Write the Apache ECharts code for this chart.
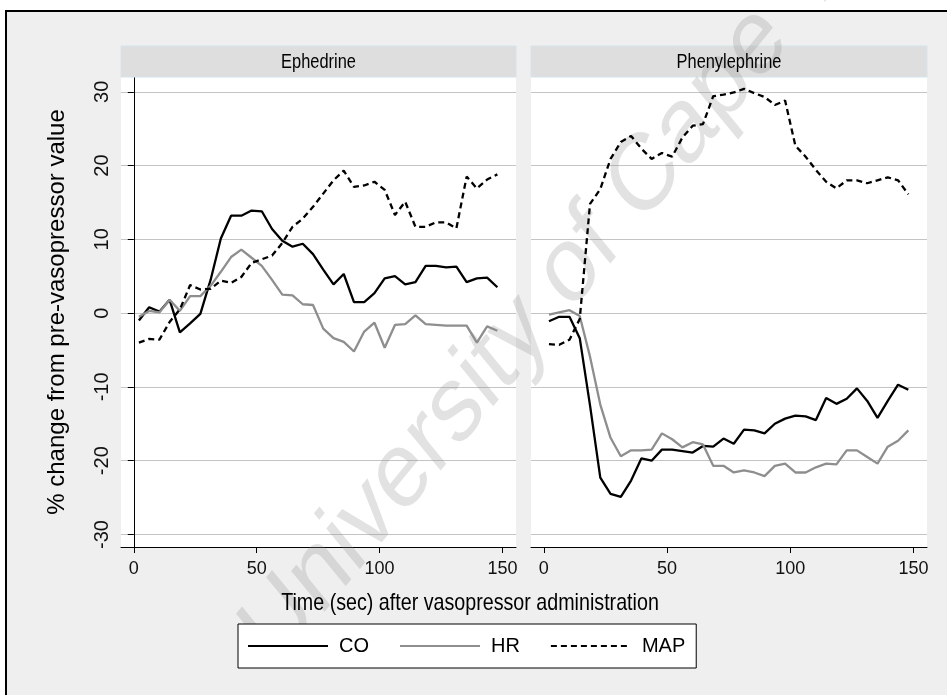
<!DOCTYPE html>
<html>
<head>
<meta charset="utf-8">
<script src="https://cdn.jsdelivr.net/npm/echarts@6/dist/echarts.min.js"></script>
<style>
  html, body { margin: 0; padding: 0; background: #fff; }
  #main { width: 947px; height: 695px; }
</style>
</head>
<body>
<div id="main"></div>
<script>
// time points (sec after vasopressor)
var times = [2.08, 6.25, 10.42, 14.58, 18.75, 22.92, 27.08, 31.25, 35.42, 39.58, 43.75, 47.92,
  52.08, 56.25, 60.42, 64.58, 68.75, 72.92, 77.08, 81.25, 85.42, 89.58, 93.75, 97.92,
  102.08, 106.25, 110.42, 114.58, 118.75, 122.92, 127.08, 131.25, 135.42, 139.58, 143.75, 147.92];

// Ephedrine
var ephCO = [-1.0, 0.8, 0.2, 1.8, -2.6, -1.4, -0.1, 4.5, 10.1, 13.2, 13.2, 13.9,
  13.8, 11.4, 9.8, 9.0, 9.4, 8.0, 5.9, 3.9, 5.3, 1.5, 1.5, 2.7,
  4.7, 5.0, 3.9, 4.2, 6.4, 6.4, 6.2, 6.3, 4.2, 4.7, 4.8, 3.5];
var ephHR = [-0.5, 0.3, 0.1, 1.8, 0.3, 2.3, 2.3, 3.7, 5.6, 7.6, 8.6, 7.5,
  6.4, 4.5, 2.5, 2.4, 1.2, 1.1, -2.1, -3.4, -3.9, -5.2, -2.5, -1.3,
  -4.7, -1.6, -1.5, -0.3, -1.5, -1.6, -1.7, -1.7, -1.7, -4.0, -1.8, -2.4];
var ephMAP = [-4.0, -3.5, -3.6, -1.2, 0.5, 3.8, 3.2, 3.3, 4.4, 4.1, 4.9, 6.8,
  7.3, 7.8, 9.5, 11.7, 12.8, 14.4, 16.2, 18.0, 19.3, 17.1, 17.3, 17.8,
  16.7, 13.3, 15.1, 11.7, 11.7, 12.3, 12.3, 11.5, 18.5, 16.9, 18.1, 18.8];

// Phenylephrine
var phCO = [-1.1, -0.5, -0.5, -3.4, -12.5, -22.3, -24.5, -24.9, -22.7, -19.7, -20.0, -18.5,
  -18.5, -18.7, -18.9, -18.0, -18.1, -17.0, -17.7, -15.8, -15.9, -16.3, -15.0, -14.3,
  -13.9, -14.0, -14.5, -11.5, -12.3, -11.6, -10.2, -11.9, -14.2, -11.9, -9.7, -10.4];
var phHR = [-0.2, 0.1, 0.4, -0.4, -5.9, -12.4, -16.9, -19.4, -18.6, -18.6, -18.5, -16.3,
  -17.1, -18.2, -17.5, -17.8, -20.7, -20.7, -21.6, -21.3, -21.6, -22.1, -20.7, -20.4,
  -21.6, -21.6, -20.9, -20.4, -20.5, -18.6, -18.6, -19.5, -20.4, -18.1, -17.3, -15.9];
var phMAP = [-4.2, -4.3, -3.6, -0.8, 14.8, 16.8, 20.9, 23.2, 24.0, 22.3, 20.9, 21.7,
  21.2, 23.8, 25.4, 25.6, 29.4, 29.6, 29.9, 30.4, 29.8, 29.3, 28.2, 28.8,
  22.7, 21.2, 19.4, 17.8, 16.9, 18.0, 18.0, 17.6, 18.0, 18.4, 18.0, 16.1];

var panels = ['Ephedrine', 'Phenylephrine'];
var xTicks = [0, 50, 100, 150];
var yTicks = [-30, -20, -10, 0, 10, 20, 30];

var FONT = '"Liberation Sans", Arial, sans-serif';
var SQUEEZE = 0.82; // the source image is squeezed sideways

function pairs(vals) {
  return vals.map(function (v, i) { return [times[i], v]; });
}

var chart = echarts.init(document.getElementById('main'));

var grids = [
  { left: 121, top: 77, width: 395, height: 470 },
  { left: 531, top: 77, width: 396, height: 470 }
];

function xAxis(i) {
  return {
    type: 'value', gridIndex: i, min: -5.2, max: 155.5, splitNumber: 3,
    axisLine: { show: true, onZero: false, lineStyle: { color: '#000', width: 1 } },
    axisTick: { show: true, length: 6, lineStyle: { color: '#000' }, customValues: xTicks },
    axisLabel: { fontSize: 18, color: '#111', fontFamily: FONT, margin: 13, customValues: xTicks },
    splitLine: { show: false }
  };
}

function yAxis(i) {
  var first = i === 0;
  return {
    type: 'value', gridIndex: i, min: -31.7, max: 32,
    name: first ? '% change from pre-vasopressor value' : '',
    nameLocation: 'middle', nameGap: 52,
    nameTextStyle: { fontSize: 24, color: '#000', fontFamily: FONT },
    axisLine: { show: first, lineStyle: { color: '#000', width: 1 } },
    axisTick: { show: first, length: 6, lineStyle: { color: '#000' }, customValues: yTicks },
    axisLabel: { show: first, rotate: 90, fontSize: 20, color: '#111', fontFamily: FONT,
      margin: 9, customValues: yTicks },
    splitLine: { show: true, lineStyle: { color: '#c4c4c4', width: 1 } }
  };
}

function lines(i, co, hr, map) {
  return [
    { name: 'CO', type: 'line', xAxisIndex: i, yAxisIndex: i, data: pairs(co),
      symbol: 'none', lineStyle: { color: '#000', width: 2.3 }, itemStyle: { color: '#000' }, z: 3 },
    { name: 'HR', type: 'line', xAxisIndex: i, yAxisIndex: i, data: pairs(hr),
      symbol: 'none', lineStyle: { color: '#8e8e8e', width: 2.3 }, itemStyle: { color: '#8e8e8e' }, z: 4 },
    { name: 'MAP', type: 'line', xAxisIndex: i, yAxisIndex: i, data: pairs(map),
      symbol: 'none', lineStyle: { color: '#000', width: 2.3, type: [6, 4] }, itemStyle: { color: '#000' }, z: 5 }
  ];
}

function squeezedText(txt, cx, cy, size, z) {
  return {
    type: 'text', z: z, x: cx, y: cy, scaleX: SQUEEZE,
    style: { text: txt, fontSize: size, fontFamily: FONT, fill: '#000',
      align: 'center', verticalAlign: 'middle', textAlign: 'center', textVerticalAlign: 'middle' }
  };
}

// strip headers, frame, titles and the watermark
var graphics = [
  { type: 'rect', z: -10, shape: { x: 6, y: 11, width: 950, height: 700 },
    style: { fill: '#efefef', stroke: '#000', lineWidth: 2 } }
];
panels.forEach(function (p, i) {
  var g = grids[i];
  graphics.push({ type: 'rect', z: 1, shape: { x: g.left, y: 46, width: g.width, height: 31 },
    style: { fill: '#dedede', stroke: '#d5e4ea', lineWidth: 1 } });
  graphics.push(squeezedText(p, g.left + g.width / 2, 62, 20, 2));
});
graphics.push(squeezedText('Time (sec) after vasopressor administration', 470, 603, 24, 2));
graphics.push({
  type: 'group', z: 1, x: 0, y: 0, scaleX: SQUEEZE,
  children: [{
    type: 'text', z: 1, x: 598 / SQUEEZE, y: 236, rotation: 45 * Math.PI / 180,
    style: { text: 'University of Cape Town', fontSize: 109, fontFamily: FONT, fill: 'rgba(140,140,140,0.25)',
      align: 'center', verticalAlign: 'middle', textAlign: 'center', textVerticalAlign: 'middle' }
  }]
});

var option = {
  animation: false,
  backgroundColor: '#fff',
  textStyle: { fontFamily: FONT },
  grid: grids.map(function (g) {
    return Object.assign({ show: true, backgroundColor: '#fff', borderWidth: 0 }, g);
  }),
  xAxis: [xAxis(0), xAxis(1)],
  yAxis: [yAxis(0), yAxis(1)],
  legend: {
    data: ['CO', 'HR', 'MAP'],
    left: 238, top: 624, orient: 'horizontal',
    backgroundColor: '#fff', borderColor: '#000', borderWidth: 1, borderRadius: 0,
    padding: [12, 11, 12, 9],
    itemWidth: 80, itemHeight: 16, itemGap: 30,
    itemStyle: { color: 'transparent', borderColor: 'transparent', borderWidth: 0, opacity: 0 },
    textStyle: { fontSize: 20, color: '#000', fontFamily: FONT, padding: [0, 0, 0, 6] }
  },
  graphic: { elements: graphics },
  series: lines(0, ephCO, ephHR, ephMAP).concat(lines(1, phCO, phHR, phMAP))
};

chart.setOption(option);
</script>
</body>
</html>
